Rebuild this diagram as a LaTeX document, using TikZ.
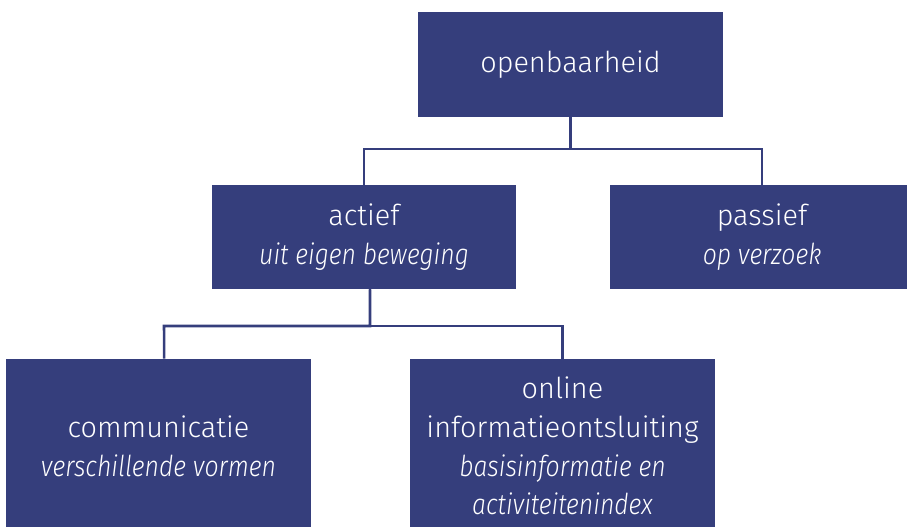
\documentclass[tikz,border=0pt]{standalone}
\usepackage{fontspec}
\setmainfont{Fira Sans}[UprightFont=* Light, ItalicFont=* Light Italic,
  ItalicFeatures={FakeStretch=0.86}]
\definecolor{rijksblauw}{HTML}{353E7C}
\begin{document}
\begin{tikzpicture}[x=0.025cm, y=-0.025cm,
  box/.style={fill=rijksblauw, text=white, align=center, inner sep=0pt,
    minimum width=7.6cm, minimum height=2.6cm,
    font=\fontsize{20.5}{27.5}\selectfont},
  bigbox/.style={box, minimum height=4.35cm},
  line/.style={draw=rijksblauw, line width=1.8pt}]
\useasboundingbox (0,0) rectangle (907,526);
\clip (0,0) rectangle (907,526);

\node[box] (top) at (570.5,64.5) {openbaarheid};
\node[box] (actief) at (364,237) {actief\\\textit{uit eigen beweging}};
\node[box] (passief) at (762,237) {passief\\\textit{op verzoek}};
\node[bigbox] (comm) at (158.5,446) {communicatie\\\textit{verschillende vormen}};
\node[bigbox] (online) at (562.5,446) {online\\informatieontsluiting\\\textit{basisinformatie en}\\\textit{activiteitenindex}};

\path[line] (top.south) |- (364,149) -- (actief.north);
\path[line] (top.south) |- (762,149) -- (passief.north);
\path[line] ([xshift=0.15cm]actief.south) |- (164,326) -- ([xshift=0.14cm]comm.north);
\path[line] ([xshift=0.15cm]actief.south) |- (562.5,326) -- (online.north);
\end{tikzpicture}
\end{document}
